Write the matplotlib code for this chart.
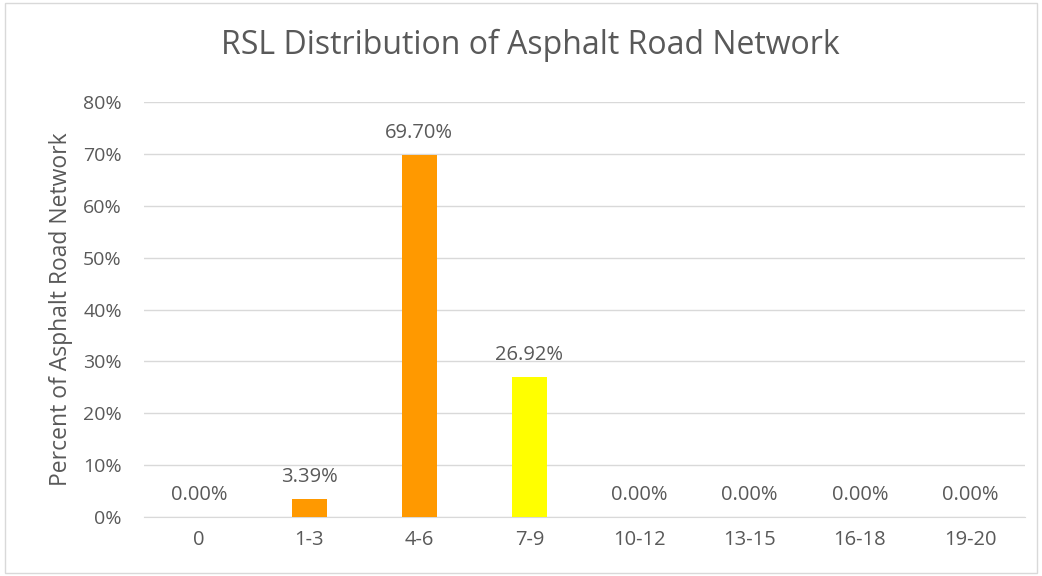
import matplotlib.pyplot as plt
from matplotlib.patches import Rectangle
from matplotlib.ticker import FuncFormatter

# Data
categories = ['0', '1-3', '4-6', '7-9', '10-12', '13-15', '16-18', '19-20']
percents = [0.0, 3.39, 69.70, 26.92, 0.0, 0.0, 0.0, 0.0]
bar_colors = ['#FF9900', '#FF9900', '#FF9900', '#FFFF00',
              '#FF9900', '#FF9900', '#FF9900', '#FF9900']

plt.rcParams['font.family'] = ['Open Sans', 'DejaVu Sans']
text_color = '#595959'

fig = plt.figure(figsize=(10.42, 5.76), dpi=100)
ax = fig.add_axes([0.1382, 0.1024, 0.8455, 0.7205])

x = range(len(categories))
ax.bar(x, [p / 100 for p in percents], width=0.32, color=bar_colors, zorder=3)

# data labels above bars
for xi, p in zip(x, percents):
    ax.annotate(f'{p:.2f}%', (xi, p / 100), xytext=(0, 12.5), textcoords='offset points',
                ha='center', va='baseline', fontsize=14.5, color=text_color)

ax.set_xlim(-0.5, len(categories) - 0.5)
ax.set_ylim(0, 0.8)
ax.set_yticks([i / 10 for i in range(9)])
ax.yaxis.set_major_formatter(FuncFormatter(lambda v, _: f'{v * 100:.0f}%'))
ax.set_xticks(list(x))
ax.set_xticklabels(categories)
ax.tick_params(axis='both', length=0, labelcolor=text_color)
ax.tick_params(axis='y', pad=16, labelsize=14)
ax.tick_params(axis='x', pad=9, labelsize=14.5)

ax.grid(axis='y', color='#D9D9D9', linewidth=1, zorder=0)
for side in ['top', 'right', 'left']:
    ax.spines[side].set_visible(False)
ax.spines['bottom'].set_color('#D9D9D9')

ax.set_ylabel('Percent of Asphalt Road Network', fontsize=16.5, color=text_color)
ax.yaxis.set_label_coords(-0.081, 0.5)
fig.text(0.509, 0.922, 'RSL Distribution of Asphalt Road Network',
         ha='center', va='center', fontsize=23, color=text_color)

# chart border
fig.patches.append(Rectangle((0.005, 0.005), 0.99, 0.99, transform=fig.transFigure,
                             fill=False, edgecolor='#D9D9D9', linewidth=1))

fig.savefig('out.png', dpi=100)
